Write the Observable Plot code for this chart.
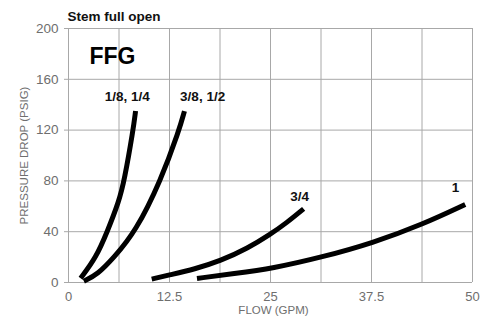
<!DOCTYPE html>
<html>
<head>
<meta charset="utf-8">
<script src="https://cdn.jsdelivr.net/npm/d3@7"></script>
<script src="https://cdn.jsdelivr.net/npm/@observablehq/plot@0.6"></script>
<style>
  html, body { margin: 0; padding: 0; background: #fff; }
  #chart svg { display: block; }
</style>
</head>
<body>
<div id="chart"></div>
<script>
// Series values (flow GPM, pressure drop PSIG)
const seriesNames = ["1/8, 1/4", "3/8, 1/2", "3/4", "1"];
const flow18 = [1.5, 3.4, 4.8, 6.25, 6.9, 8.0, 8.3];
const psi18  = [3.4, 19.5, 40, 64, 80, 120, 135];
const flow38 = [1.9, 3.6, 5.6, 8.3, 11.4, 13.7, 14.35];
const psi38  = [1, 6.3, 19.5, 40, 80, 120, 135];
const flow34 = [10.3, 12.5, 15.6, 18.8, 22.2, 25.0, 27.0, 29.1];
const psi34  = [2.7, 6, 10.5, 17, 27, 38, 47, 58];
const flow1  = [15.9, 20.5, 25.2, 31.4, 37.6, 43.9, 49.1];
const psi1   = [3.2, 7, 11, 20, 31, 46, 61.5];

// Axis ticks and gridlines
const xTicks = [0, 12.5, 25, 37.5, 50];
const xGrid = [0, 6.25, 12.5, 18.75, 25, 31.25, 37.5, 43.75, 50];
const yTicks = [0, 40, 80, 120, 160, 200];

// Curve label positions (text centers)
const labelX = [7.27, 16.6, 28.6, 47.9];
const labelY = [146.6, 146.6, 67.6, 74.7];

const flows = [flow18, flow38, flow34, flow1];
const psis = [psi18, psi38, psi34, psi1];
const rows = [];
seriesNames.forEach((s, i) => flows[i].forEach((f, j) => rows.push({series: s, flow: f, psi: psis[i][j]})));
const labels = seriesNames.map((s, i) => ({series: s, flow: labelX[i], psi: labelY[i]}));

const font = "Liberation Sans, Arial, Helvetica, sans-serif";
const gray = "#6e6e6e";

const chart = Plot.plot({
  width: 489,
  height: 320,
  marginTop: 28,
  marginBottom: 38,
  marginLeft: 68,
  marginRight: 17,
  style: {fontFamily: font, fontSize: "13px", color: gray, background: "#fff"},
  x: {domain: [0, 50], label: null},
  y: {domain: [0, 200], label: null},
  marks: [
    Plot.ruleX(xGrid, {stroke: "#a8a8a8", strokeWidth: 1}),
    Plot.ruleY(yTicks, {stroke: "#a8a8a8", strokeWidth: 1}),
    Plot.axisX({ticks: xTicks, tickFormat: d => String(d), tickSize: 0, tickPadding: 9, fontSize: 13, fill: gray, label: null}),
    Plot.axisY({ticks: yTicks, tickSize: 4, tickPadding: 6, fontSize: 13.5, fill: gray, stroke: "#a8a8a8", label: null}),
    Plot.line(rows, {x: "flow", y: "psi", z: "series", stroke: "#000", strokeWidth: 5, curve: "basis", strokeLinecap: "butt"}),
    Plot.text(labels, {x: "flow", y: "psi", text: "series", lineAnchor: "middle", fontWeight: "bold", fontSize: 13.5, fill: "#111", textAnchor: "middle"}),
    Plot.text(["Stem full open"], {frameAnchor: "top-left", dy: -17, dx: -1, fontWeight: "bold", fontSize: 13.5, fill: "#111", textAnchor: "start"}),
    Plot.text(["FFG"], {frameAnchor: "top-left", dx: 21, dy: 19, fontWeight: "bold", fontSize: 23, fill: "#000", textAnchor: "start"}),
    Plot.text(["FLOW (GPM)"], {frameAnchor: "bottom", dx: 3, dy: 31, fontSize: 11.5, fill: gray}),
    Plot.text(["PRESSURE DROP (PSIG)"], {frameAnchor: "left", dx: -44, rotate: -90, textAnchor: "middle", fontSize: 11.5, fill: gray})
  ]
});
document.getElementById("chart").append(chart);
</script>
</body>
</html>
